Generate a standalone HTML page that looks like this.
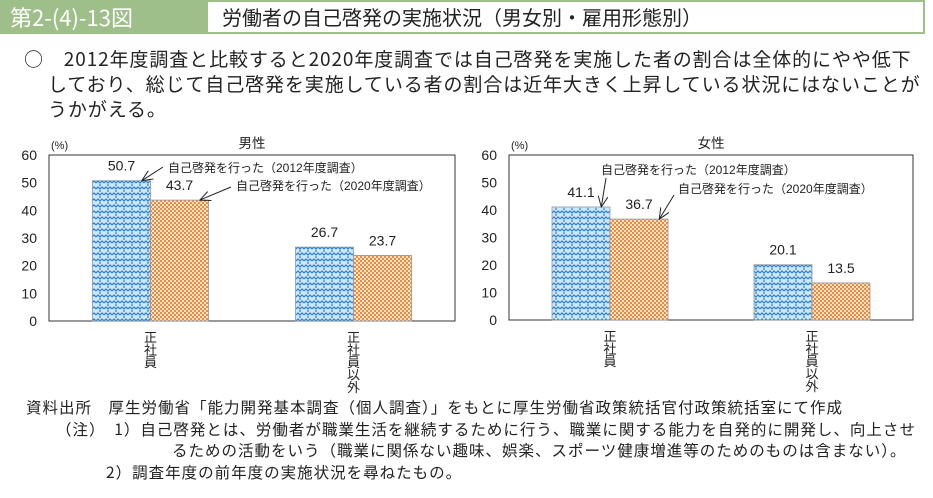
<!DOCTYPE html>
<html><head><meta charset="utf-8"><style>
body{margin:0;width:933px;height:498px;background:#fff;overflow:hidden;font-family:"Liberation Sans","Noto Sans CJK JP",sans-serif;}
#wrap{position:relative;width:933px;height:498px;}
</style></head><body><div id="wrap">
<div style="position:absolute;left:0;top:0;width:206px;height:34px;background:#9fbf8a;color:#fff;font-size:22px;line-height:34px;padding-left:10px;box-sizing:border-box;font-family:'Noto Sans CJK JP',sans-serif;">第2-(4)-13図</div>
<div style="position:absolute;left:206px;top:0;width:719px;height:34px;border:2px solid #9fbf8a;box-sizing:border-box;font-size:20px;line-height:30px;padding-left:14px;color:#222;font-family:'Noto Sans CJK JP',sans-serif;">労働者の自己啓発の実施状況（男女別・雇用形態別）</div>
<div style="position:absolute;left:24px;top:46px;width:905px;font-size:19px;letter-spacing:0.9px;line-height:25px;color:#222;white-space:nowrap;font-family:'Noto Sans CJK JP',sans-serif;">
<div>○　2012年度調査と比較すると2020年度調査では自己啓発を実施した者の割合は全体的にやや低下</div>
<div style="padding-left:24px">しており、総じて自己啓発を実施している者の割合は近年大きく上昇している状況にはないことが</div>
<div style="padding-left:24px">うかがえる。</div></div>
<svg id="chart" width="933" height="498" style="position:absolute;left:0;top:0;font-family:'Liberation Sans','Noto Sans CJK JP',sans-serif;">
<defs>
<pattern id="pb" width="8" height="6" patternUnits="userSpaceOnUse"><rect width="8" height="6" fill="#cde6f8"/><path d="M0,3 L2,1 L4,3 L6,1 L8,3" stroke="#2a7fd0" stroke-width="1.2" fill="none"/><circle cx="4" cy="5" r="0.9" fill="#2a7fd0"/></pattern>
<pattern id="po" width="4" height="4" patternUnits="userSpaceOnUse"><rect width="4" height="4" fill="#fbe3cc"/><rect width="2" height="2" fill="#ee8a3c"/><rect x="2" y="2" width="2" height="2" fill="#ee8a3c"/></pattern>
<marker id="ar" markerWidth="12" markerHeight="10" refX="11" refY="5" orient="auto" markerUnits="userSpaceOnUse"><path d="M0,0 L11,5 L0,10" fill="none" stroke="#222" stroke-width="1"/></marker>
</defs>
</svg>
<div style="position:absolute;left:26px;top:397px;font-size:15.5px;letter-spacing:1px;line-height:21.5px;color:#222;white-space:nowrap;font-family:'Noto Sans CJK JP',sans-serif;">
<div>資料出所　厚生労働省「能力開発基本調査（個人調査）」をもとに厚生労働省政策統括官付政策統括室にて作成</div>
<div style="padding-left:30px">（注）　1）自己啓発とは、労働者が職業生活を継続するために行う、職業に関する能力を自発的に開発し、向上させ</div>
<div style="padding-left:146px">るための活動をいう（職業に関係ない趣味、娯楽、スポーツ健康増進等のためのものは含まない）。</div>
<div style="padding-left:80px">2）調査年度の前年度の実施状況を尋ねたもの。</div></div>
</div>
<script>
const categories = ["正社員", "正社員以外"];
const maleValues2012 = [50.7, 26.7];
const maleValues2020 = [43.7, 23.7];
const femaleValues2012 = [41.1, 20.1];
const femaleValues2020 = [36.7, 13.5];
const yTicks = [0, 10, 20, 30, 40, 50, 60];
const yMax = 60;
const svg = document.getElementById('chart');
const NS = 'http://www.w3.org/2000/svg';
function mk(tag, attrs, parent){const e=document.createElementNS(NS,tag);for(const k in attrs)e.setAttribute(k,attrs[k]);(parent||svg).appendChild(e);return e;}
function txt(x,y,s,size,anchor,parent){const e=mk('text',{x:x,y:y,'font-size':size,'text-anchor':anchor||'start',fill:'#222'},parent);e.textContent=s;return e;}
function drawChart(p){
  const g=mk('g',{});
  
  
  const yS=v=>p.bottom-(v/yMax)*(p.bottom-p.top);
  const w=p.right-p.left, gw=w/categories.length, bw=p.barW;
  mk('rect',{x:p.left,y:p.top,width:w,height:p.bottom-p.top,fill:'none',stroke:'#333','stroke-width':1},g);
  yTicks.forEach(t=>{const e=txt(p.left-12,yS(t)+5,String(t),14,'end',g);
    
    });
  txt(p.left+2,p.top-6,'(%)',11,'start',g);
  const tt=txt((p.left+p.right)/2,p.top-7,p.title,13.5,'middle',g);
  
  
  const tops=[];
  categories.forEach((c,i)=>{
    const cx=p.left+gw*i+gw/2;
    [[p.v1[i],'url(#pb)',cx-bw],[p.v2[i],'url(#po)',cx]].forEach((d,j)=>{
      const r=mk('rect',{x:d[2],y:yS(d[0]),width:bw,height:yS(0)-yS(d[0]),fill:d[1],stroke:'#8a9aa8','stroke-width':0.8},g);
      
      
      const l=txt(d[2]+bw/2,yS(d[0])-10,d[0].toFixed(1),14,'middle',g);
      
      
      if(i===0)tops.push([d[2]+bw*0.85,yS(d[0])]);
    });
    const chars=[...c];
    chars.forEach((ch,k)=>{const e=txt(cx,p.bottom+21+k*12.5,ch,13,'middle',g);
      
      });
  });
  p.ann.forEach((a,j)=>{
    const e=txt(a.tx,a.ty,a.label,12,'start',g);
    
    
    mk('line',{x1:a.sx,y1:a.sy,x2:tops[j][0],y2:tops[j][1],stroke:'#222','stroke-width':1,'marker-end':'url(#ar)'},g);
  });
}
drawChart({name:'male-chart',title:'男性',left:49,right:455,top:155,bottom:321,barW:58,v1:maleValues2012,v2:maleValues2020,
  ann:[{tx:168,ty:172,sx:163,sy:167,label:'自己啓発を行った（2012年度調査）'},{tx:236,ty:190,sx:231,sy:187,label:'自己啓発を行った（2020年度調査）'}]});
drawChart({name:'female-chart',title:'女性',left:509,right:913,top:155,bottom:320,barW:58,v1:femaleValues2012,v2:femaleValues2020,
  ann:[{tx:601,ty:174,sx:606,sy:178,label:'自己啓発を行った（2012年度調査）'},{tx:678,ty:193,sx:674,sy:195,label:'自己啓発を行った（2020年度調査）'}]});
</script>
</body></html>
